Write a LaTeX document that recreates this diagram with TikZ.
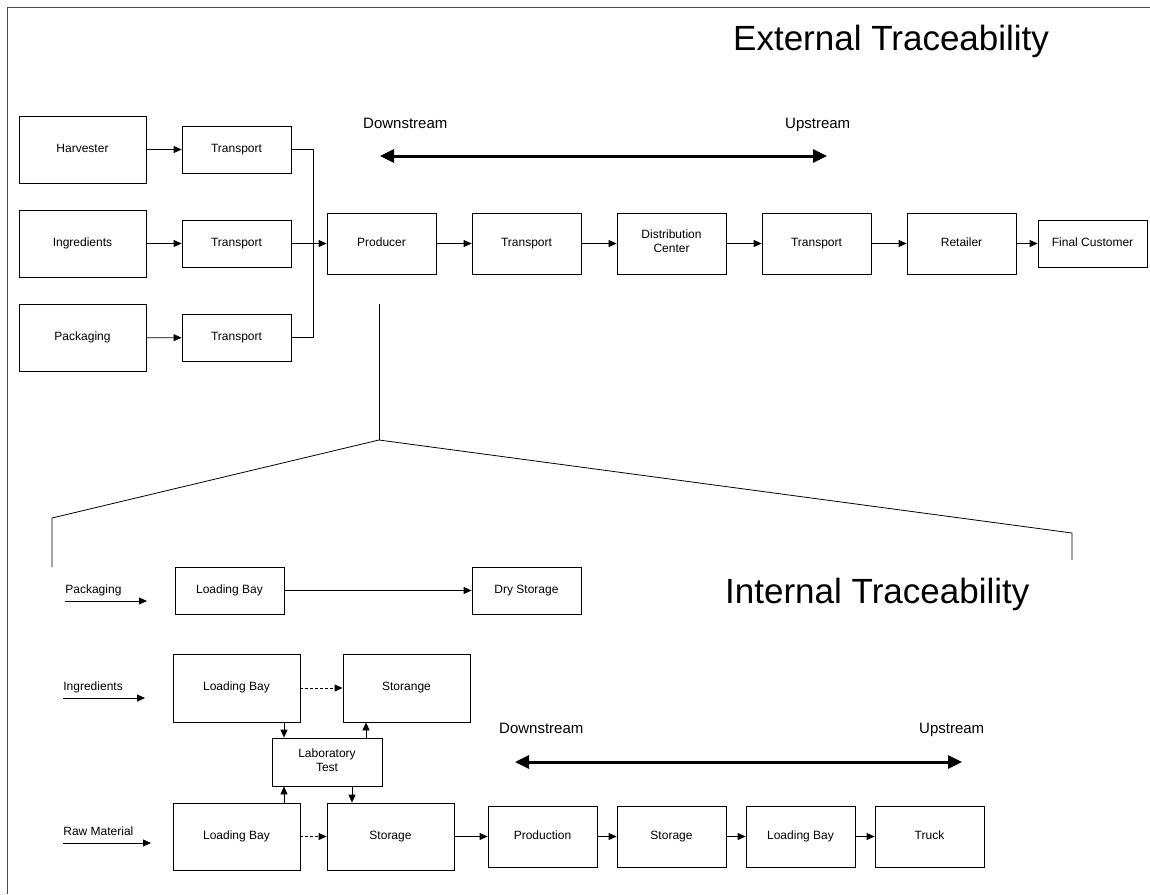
\documentclass[tikz,border=0pt]{standalone}
\usepackage{fontspec}
\setmainfont{Liberation Sans}
\usetikzlibrary{arrows.meta}
\tikzset{
  stage/.style={draw, line width=0.8pt, inner sep=0pt, align=center, font=\fontsize{12}{14}\selectfont,
    execute at begin node=\strut, execute at end node=\strut},
  wide/.style={stage, minimum width=127pt, minimum height=67pt},
  narrow/.style={stage, minimum width=109pt, minimum height=47pt},
  tall/.style={stage, minimum width=109pt, minimum height=61pt},
  flow/.style={line width=0.8pt, -{Triangle[length=8pt,width=7pt]}},
  dflow/.style={flow, densely dashed},
  direction/.style={line width=3pt, {Triangle[length=14pt,width=13pt]}-{Triangle[length=14pt,width=13pt]}},
  feed/.style={font=\fontsize{12}{14}\selectfont, inner sep=0pt, anchor=base west, yshift=8pt},
  side/.style={font=\fontsize{15}{18}\selectfont, inner sep=0pt, anchor=base west},
  heading/.style={font=\fontsize{35}{40}\selectfont, inner sep=0pt, anchor=base west}
}

\begin{document}
\begin{tikzpicture}[x=1pt,y=-1pt]
            \useasboundingbox (0,0) rectangle (1150,894);
            \draw [line width=1pt, black!70] (7,894) -- (7,7) -- (1150,7);
            \node [heading] (ext) at (733,50) {External Traceability};
            \node [heading] (int) at (725,603) {Internal Traceability};

            \node [wide] (harv) at (82.5,149.5) {Harvester};
            \node [wide] (ingr) at (82.5,243.5) {Ingredients};
            \node [wide] (pack) at (82.5,338) {Packaging};
            \node [narrow] (tharv) at (236.5,149.5) {Transport};
            \node [narrow] (tingr) at (236.5,243.5) {Transport};
            \node [narrow] (tpack) at (236.5,337.5) {Transport};
            \coordinate (join) at (313,243.5);
            \draw [flow] (harv) -- (tharv);
            \draw [flow] (ingr) -- (tingr);
            \draw [flow] (pack) -- (tpack);
            \draw [line width=0.8pt] (tharv.east) -| (join);
            \draw [line width=0.8pt] (tpack.east) -| (join);

            \node [tall] (prod) at (381.5,243.5) {Producer};
            \node [tall] (tdist) at (526.5,243.5) {Transport};
            \node [tall] (dist) at (671.5,243.5) {Distribution\\Center};
            \node [tall] (tret) at (816.5,243.5) {Transport};
            \node [tall] (ret) at (961.5,243.5) {Retailer};
            \node [narrow] (cust) at (1092.5,243.5) {Final Customer};
            \draw [flow] (tingr) -- (prod);
            \draw [flow] (prod) -- (tdist);
            \draw [flow] (tdist) -- (dist);
            \draw [flow] (dist) -- (tret);
            \draw [flow] (tret) -- (ret);
            \draw [flow] (ret) -- (cust);

            \node [side] (extdown) at (363,128.5) {Downstream};
            \node [side] (extup) at (785,128.5) {Upstream};
            \coordinate (extA) at (380,156);
            \coordinate (extB) at (827,156);
            \draw [direction] (extA) -- (extB);

            \coordinate (zoomtop) at (379,304);
            \coordinate (apex) at (379,440);
            \coordinate (zl) at (52,518);
            \coordinate (zlb) at (52,567);
            \coordinate (zr) at (1072,533);
            \coordinate (zrb) at (1072,560);
            \draw [line width=0.8pt] (zoomtop) -- (apex);
            \draw [line width=0.8pt] (zlb) -- (zl) -- (apex) -- (zr) -- (zrb);

            \coordinate (fpA) at (65,601);
            \coordinate (fpB) at (147,601);
            \coordinate (fiA) at (63,698);
            \coordinate (fiB) at (145,698);
            \coordinate (frA) at (63,843);
            \coordinate (frB) at (151,843);
            \draw [flow] (fpA) -- node [feed, pos=0] {Packaging} (fpB);
            \draw [flow] (fiA) -- node [feed, pos=0] {Ingredients} (fiB);
            \draw [flow] (frA) -- node [feed, pos=0] {Raw Material} (frB);

            \node [narrow] (pbay) at (229.5,590.5) {Loading Bay};
            \node [narrow] (dry) at (526.5,590.5) {Dry Storage};
            \draw [flow] (pbay) -- (dry);

            \node [wide, minimum height=68pt] (ibay) at (236.5,688) {Loading Bay};
            \node [wide, minimum height=68pt] (istore) at (406.5,688) {Storange};
            \node [narrow, minimum width=110pt, minimum height=48pt] (lab) at (327,762) {Laboratory\\Test};
            \node [wide] (rbay) at (236.5,836.5) {Loading Bay};
            \node [wide] (rstore) at (390.5,836.5) {Storage};
            \draw [dflow] (ibay) -- (istore);
            \draw [dflow] (rbay) -- (rstore);
            \draw [flow] ([xshift=47.5pt]ibay.south) -- ([xshift=47.5pt]ibay.south |- lab.north);
            \draw [flow] ([xshift=39pt]lab.north) -- ([xshift=39pt]lab.north |- istore.south);
            \draw [flow] ([xshift=47.5pt]rbay.north) -- ([xshift=47.5pt]rbay.north |- lab.south);
            \draw [flow] ([xshift=25pt]lab.south) -- ([xshift=25pt]lab.south |- rstore.north);

            \node [tall] (mill) at (542.5,836.5) {Production};
            \node [tall] (ostore) at (671.5,836.5) {Storage};
            \node [tall] (obay) at (800.5,836.5) {Loading Bay};
            \node [tall] (truck) at (929.5,836.5) {Truck};
            \draw [flow] (rstore) -- (mill);
            \draw [flow] (mill) -- (ostore);
            \draw [flow] (ostore) -- (obay);
            \draw [flow] (obay) -- (truck);

            \node [side] (intdown) at (499,733.5) {Downstream};
            \node [side] (intup) at (919,733.5) {Upstream};
            \coordinate (intA) at (515,762);
            \coordinate (intB) at (962,762);
            \draw [direction] (intA) -- (intB);
\end{tikzpicture}
\end{document}
